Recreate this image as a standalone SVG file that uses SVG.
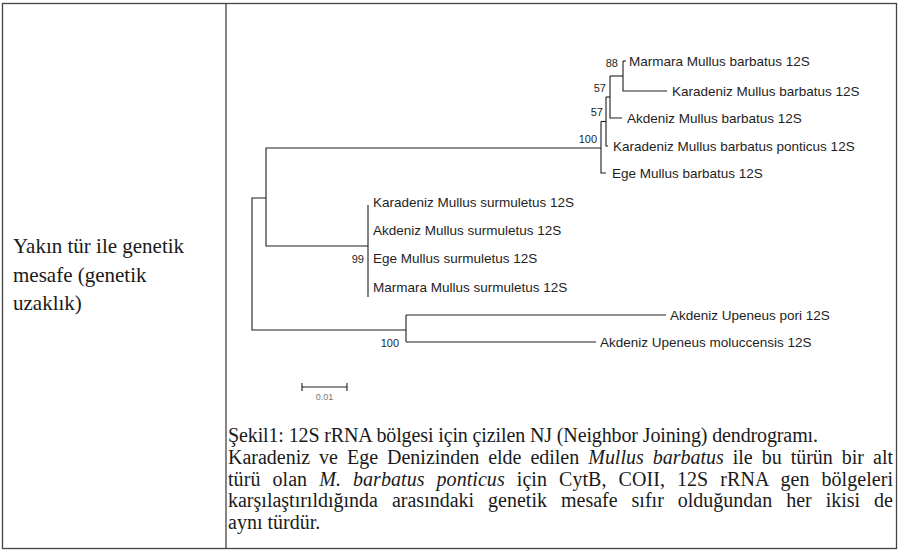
<svg xmlns="http://www.w3.org/2000/svg" width="902" height="552" viewBox="0 0 902 552">
<style>
.frame{fill:none;stroke:#444;stroke-width:1.3}
.br{fill:none;stroke:#1e1e1e;stroke-width:1.1}
.leaf{font-family:"Liberation Sans",Arial,sans-serif;font-size:13.5px;fill:#1e1e1e}
.bs{font-family:"Liberation Sans",Arial,sans-serif;font-size:11px;fill:#1e1e1e;text-anchor:end}
.serif{font-family:"Liberation Serif","Times New Roman",serif;fill:#1a1a1a}
.it{font-style:italic}
</style>
<rect width="902" height="552" fill="#fff"/>
<g id="table">
<rect class="frame" x="2.5" y="3.5" width="894" height="545"/>
<line class="frame" x1="226" y1="3.5" x2="226" y2="548.5"/>
</g>
<g id="row-label" class="serif" font-size="21">
<text x="13" y="253">Yakın tür ile genetik</text>
<text x="13" y="282">mesafe (genetik</text>
<text x="13" y="310">uzaklık)</text>
</g>
<g id="connectors">
<path class="br" d="M266,198 H252 V330 H406"/>
<path class="br" d="M601,148 H266 V246 H368"/>
<path class="br" d="M368,205 V297"/>
<path class="br" d="M601,121.5 V173 H606"/>
<path class="br" d="M601,121.5 H606"/>
<path class="br" d="M606,97 V146 H608"/>
<path class="br" d="M606,97 H610"/>
<path class="br" d="M610,76 V118 H622"/>
<path class="br" d="M610,76 H623"/>
<path class="br" d="M623,61 V91 H667"/>
<path class="br" d="M623,61 H626"/>
<path class="br" d="M406,315 V342"/>
<path class="br" d="M406,315 H666"/>
<path class="br" d="M406,342 H596"/>
</g>
<g id="bootstrap">
<text class="bs" x="618" y="67">88</text>
<text class="bs" x="606" y="92">57</text>
<text class="bs" x="603" y="116">57</text>
<text class="bs" x="597" y="143">100</text>
<text class="bs" x="364" y="263">99</text>
<text class="bs" x="399" y="347">100</text>
</g>
<g id="leaf-marmara-barbatus"><text class="leaf" x="629" y="66">Marmara Mullus barbatus 12S</text></g>
<g id="leaf-karadeniz-barbatus"><text class="leaf" x="672" y="96">Karadeniz Mullus barbatus 12S</text></g>
<g id="leaf-akdeniz-barbatus"><text class="leaf" x="627" y="123">Akdeniz Mullus barbatus 12S</text></g>
<g id="leaf-karadeniz-ponticus"><text class="leaf" x="613" y="151">Karadeniz Mullus barbatus ponticus 12S</text></g>
<g id="leaf-ege-barbatus"><text class="leaf" x="612" y="178">Ege Mullus barbatus 12S</text></g>
<g id="leaf-karadeniz-surmuletus"><text class="leaf" x="373" y="207">Karadeniz Mullus surmuletus 12S</text></g>
<g id="leaf-akdeniz-surmuletus"><text class="leaf" x="373" y="235">Akdeniz Mullus surmuletus 12S</text></g>
<g id="leaf-ege-surmuletus"><text class="leaf" x="373" y="263">Ege Mullus surmuletus 12S</text></g>
<g id="leaf-marmara-surmuletus"><text class="leaf" x="373" y="292">Marmara Mullus surmuletus 12S</text></g>
<g id="leaf-upeneus-pori"><text class="leaf" x="670" y="320">Akdeniz Upeneus pori 12S</text></g>
<g id="leaf-upeneus-moluccensis"><text class="leaf" x="600" y="347">Akdeniz Upeneus moluccensis 12S</text></g>
<g id="scale-bar">
<path class="br" d="M302,387 H347 M302,383 V391 M347,383 V391"/>
<text x="324.5" y="400" text-anchor="middle" font-family="Liberation Sans,Arial,sans-serif" font-size="9" fill="#777">0.01</text>
</g>
<g id="caption" class="serif" font-size="20">
<text x="228" y="442" textLength="590" lengthAdjust="spacing">Şekil1: 12S rRNA bölgesi için çizilen NJ (Neighbor Joining) dendrogramı.</text>
<text x="228" y="464" word-spacing="4" textLength="665" lengthAdjust="spacing">Karadeniz ve Ege Denizinden elde edilen <tspan class="it">Mullus barbatus</tspan> ile bu türün bir alt</text>
<text x="228" y="486" word-spacing="7" textLength="665" lengthAdjust="spacing">türü olan <tspan class="it">M. barbatus ponticus</tspan> için CytB, COII, 12S rRNA gen bölgeleri</text>
<text x="228" y="507" word-spacing="9" textLength="665" lengthAdjust="spacing">karşılaştırıldığında arasındaki genetik mesafe sıfır olduğundan her ikisi de</text>
<text x="228" y="529">aynı türdür.</text>
</g>
</svg>
